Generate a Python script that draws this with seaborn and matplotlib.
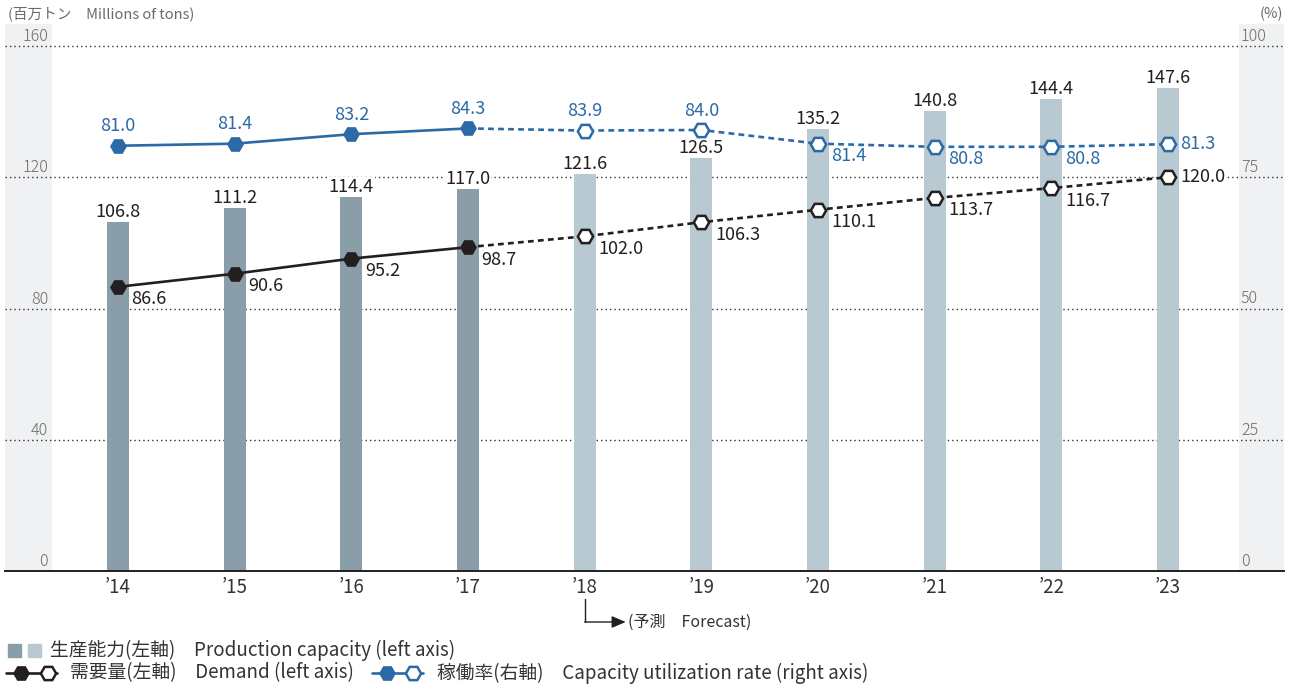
import matplotlib
matplotlib.use("Agg")
import matplotlib.pyplot as plt
import matplotlib.transforms as mtransforms
from matplotlib.lines import Line2D
from matplotlib.patches import Rectangle
import seaborn as sns
import pandas as pd

sns.set_theme(style="white")
plt.rcParams['font.family'] = ['Noto Sans CJK JP', 'DejaVu Sans']

# ---------------- data ----------------
years = ["’14", "’15", "’16", "’17", "’18", "’19", "’20", "’21", "’22", "’23"]
capacity = [106.8, 111.2, 114.4, 117.0, 121.6, 126.5, 135.2, 140.8, 144.4, 147.6]
demand = [86.6, 90.6, 95.2, 98.7, 102.0, 106.3, 110.1, 113.7, 116.7, 120.0]
utilization = [81.0, 81.4, 83.2, 84.3, 83.9, 84.0, 81.4, 80.8, 80.8, 81.3]
kind = ["actual"] * 4 + ["forecast"] * 6
left_ticks = [0, 40, 80, 120, 160]
right_ticks = [0, 25, 50, 75, 100]
# label placement: 'above', 'below' (below-right), 'right'
util_pos = ["above"] * 6 + ["below"] * 3 + ["right"]
demand_pos = ["below"] * 9 + ["right"]

DARK_BAR = "#899ea8"
LIGHT_BAR = "#b9c9d2"
BLACK = "#231f20"
BLUE = "#2b6aa6"
BAND = "#f0f1f3"
TICK_C = "#6a6a6a"
TEXT_C = "#333333"

W, H = 1295, 689
fig = plt.figure(figsize=(W / 100, H / 100), dpi=100)
ax_l, ax_r, ax_b, ax_t = 5, 1284, 571, 24
ax = fig.add_axes([ax_l / W, 1 - ax_b / H, (ax_r - ax_l) / W, (ax_b - ax_t) / H])

px_per_cat = (1168 - 118) / 9.0
x0 = -(118 - ax_l) / px_per_cat
x1 = x0 + (ax_r - ax_l) / px_per_cat
ymax = 160 + (46 - ax_t) / ((ax_b - 46) / 160.0)

df = pd.DataFrame({"year": years, "capacity": capacity, "kind": kind})

# background bands
ax.axvspan(x0, x0 + (52 - ax_l) / px_per_cat, color=BAND, zorder=0, lw=0)
ax.axvspan(x0 + (1239 - ax_l) / px_per_cat, x1, color=BAND, zorder=0, lw=0)

# grid lines
for t in left_ticks[1:]:
    ax.axhline(t, color="#333333", lw=1.0, ls=(0, (1, 2.2)), zorder=1)

sns.barplot(data=df, x="year", y="capacity", hue="kind", order=years,
            palette={"actual": DARK_BAR, "forecast": LIGHT_BAR},
            dodge=False, width=0.19, legend=False, ax=ax, zorder=2,
            saturation=1, linewidth=0)

ax.set_xlim(x0, x1)
ax.set_ylim(0, ymax)

# capacity labels
for i, v in enumerate(capacity):
    ax.annotate(f"{v:.1f}", (i, v), xytext=(0, -0.5), textcoords="offset points",
                ha="center", va="bottom", fontsize=13, color=BLACK, zorder=6,
                bbox=dict(boxstyle="square,pad=0.05", fc="white", ec="none"))

xs = list(range(len(years)))
dash = (0, (2.2, 1.6))

# demand
ax.plot(xs[3:], demand[3:], color=BLACK, lw=1.9, ls=dash, zorder=3)
ax.plot(xs[:4], demand[:4], color=BLACK, lw=1.9, marker="H", ms=11,
        mfc=BLACK, mec=BLACK, zorder=4)
ax.plot(xs[4:], demand[4:], ls="none", marker="H", ms=11, mfc="white",
        mec=BLACK, mew=1.8, zorder=5)

offsets = {"above": ((0, 14), "center"), "below": ((9.8, -9.0), "left"),
           "right": ((8.8, 0), "left")}
for i, v in enumerate(demand):
    off, ha = offsets[demand_pos[i]]
    ax.annotate(f"{v:.1f}", (i, v), xytext=off, textcoords="offset points",
                ha=ha, va="center", fontsize=13, color=BLACK, zorder=6,
                bbox=dict(boxstyle="square,pad=0.05", fc="white", ec="none")
                if demand_pos[i] == "right" else None)

# utilization on right axis
ax2 = ax.twinx()
ax2.set_ylim(0, ymax * 100 / 160)
ax2.set_xlim(x0, x1)
ax2.plot(xs[3:], utilization[3:], color=BLUE, lw=1.9, ls=dash, zorder=3)
ax2.plot(xs[:4], utilization[:4], color=BLUE, lw=1.9, marker="H", ms=11,
         mfc=BLUE, mec=BLUE, zorder=4)
ax2.plot(xs[4:], utilization[4:], ls="none", marker="H", ms=11, mfc="white",
         mec=BLUE, mew=1.8, zorder=5)
for i, v in enumerate(utilization):
    off, ha = offsets[util_pos[i]]
    ax2.annotate(f"{v:.1f}", (i, v), xytext=off, textcoords="offset points",
                 ha=ha, va="center", fontsize=13, color=BLUE, zorder=6)

for a in (ax, ax2):
    for s in ("top", "left", "right"):
        a.spines[s].set_visible(False)
    a.set_yticks([])
    a.set_ylabel("")
    a.set_xlabel("")
ax2.spines["bottom"].set_visible(False)
ax2.set_xticks([])
ax.spines["bottom"].set_color(BLACK)
ax.spines["bottom"].set_linewidth(1.4)
ax.spines["bottom"].set_zorder(7)

ax.set_xticks(xs)
ax.set_xticklabels(years, fontsize=13.5, color=TEXT_C)
ax.tick_params(axis="x", length=0, pad=4)

# y tick labels inside bands
trans_l = mtransforms.blended_transform_factory(ax.transAxes, ax.transData)
for t in left_ticks:
    ax.text((48 - ax_l) / (ax_r - ax_l), t + 0.3, str(t), transform=trans_l,
            ha="right", va="bottom", fontsize=11.5, color=TICK_C, zorder=6,
            fontweight="light")
trans_r = mtransforms.blended_transform_factory(ax2.transAxes, ax2.transData)
for t in right_ticks:
    ax2.text((1241 - ax_l) / (ax_r - ax_l), t + 0.2, str(t), transform=trans_r,
             ha="left", va="bottom", fontsize=11.5, color=TICK_C, zorder=6,
             fontweight="light")

# unit labels
fig.text(8 / W, 1 - 14 / H, "(百万トン　Millions of tons)", ha="left",
         va="center", fontsize=10.5, color=TICK_C)
fig.text(1283 / W, 1 - 14 / H, "(%)", ha="right", va="center", fontsize=10.5,
         color=TICK_C)

# forecast annotation
trans_f = mtransforms.blended_transform_factory(ax.transData, ax.transAxes)
y_top = (ax_b - 599) / (ax_b - ax_t)
y_bot = (ax_b - 622) / (ax_b - ax_t)
ax.add_line(Line2D([4, 4], [y_top, y_bot], transform=trans_f, color=BLACK,
                   lw=1.0, clip_on=False))
x_arrow = 4 + (626 - 585) / px_per_cat
ax.annotate("", xy=(x_arrow, y_bot), xytext=(4, y_bot), xycoords=trans_f,
            textcoords=trans_f,
            arrowprops=dict(arrowstyle="-|>,head_length=0.7,head_width=0.3",
                            color=BLACK, lw=1.0, shrinkA=0, shrinkB=0))
ax.text(x_arrow + 0.02, y_bot, "(予測　Forecast)", transform=trans_f,
        ha="left", va="center", fontsize=11.5, color=TEXT_C)

# legend (manual)
def fy(y):
    return 1 - y / H

fig.patches.append(Rectangle((8 / W, fy(657)), 13 / W, 13 / H, color=DARK_BAR,
                             transform=fig.transFigure))
fig.patches.append(Rectangle((28 / W, fy(657)), 13 / W, 13 / H, color=LIGHT_BAR,
                             transform=fig.transFigure))
fig.text(50 / W, fy(650), "生産能力(左軸)　Production capacity (left axis)",
         ha="left", va="center", fontsize=13.5, color=TEXT_C)

def legend_line(xa, xb, m1, m2, color, xt, label):
    y = fy(673)
    fig.add_artist(Line2D([xa / W, xb / W], [y, y], color=color, lw=1.9,
                          transform=fig.transFigure))
    fig.add_artist(Line2D([m1 / W], [y], ls="none", marker="H", ms=11,
                          mfc=color, mec=color, transform=fig.transFigure))
    fig.add_artist(Line2D([m2 / W], [y], ls="none", marker="H", ms=11,
                          mfc="white", mec=color, mew=1.8,
                          transform=fig.transFigure))
    fig.text(xt / W, y, label, ha="left", va="center", fontsize=13.5,
             color=TEXT_C)

legend_line(6, 57, 21, 48, BLACK, 70, "需要量(左軸)　Demand (left axis)")
legend_line(372, 423, 387, 413, BLUE, 437,
            "稼働率(右軸)　Capacity utilization rate (right axis)")

fig.savefig("out.png", dpi=100)
